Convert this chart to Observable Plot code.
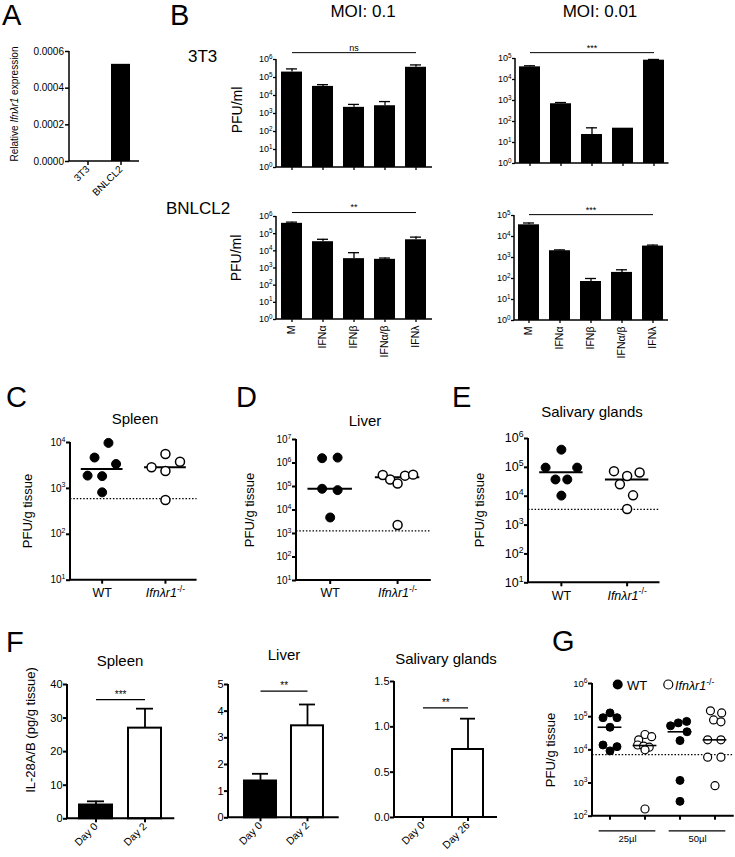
<!DOCTYPE html>
<html><head><meta charset="utf-8">
<script src="https://cdn.jsdelivr.net/npm/d3@7"></script>
<script src="https://cdn.jsdelivr.net/npm/@observablehq/plot@0.6"></script>
<style>
html,body{margin:0;padding:0;background:#fff;}
#root{position:relative;width:735px;height:857px;overflow:hidden;background:#fff;}
#root > div{position:absolute;}
</style></head><body><div id="root"></div>
<script>
const FONT = '"Liberation Sans", Arial, Helvetica, sans-serif';
const NS = "http://www.w3.org/2000/svg";

// ---------------- data ----------------
// A
const aCells = ["3T3", "BNLCL2"];
const aExpr = [0, 0.00053];
const aTicks = [0, 0.0002, 0.0004, 0.0006];

// B
const bTreat = ["M", "IFNα", "IFNβ", "IFNα/β", "IFNλ"];
const b3T3Moi01 = [2.0e5, 3.2e4, 2.2e3, 2.7e3, 3.7e5];
const b3T3Moi01Err = [3.0e5, 4.0e4, 3.2e3, 4.6e3, 5.0e5];
const b3T3Moi001 = [4.0e4, 700, 24, 48, 8.3e4];
const b3T3Moi001Err = [4.5e4, 800, 50, null, 9.0e4];
const bBnlMoi01 = [4.0e5, 3.4e4, 3.5e3, 3.2e3, 4.4e4];
const bBnlMoi01Err = [4.7e5, 4.7e4, 7.8e3, 3.8e3, 6.3e4];
const bBnlMoi001 = [3.6e4, 2.1e3, 72, 195, 3.5e3];
const bBnlMoi001Err = [4.4e4, 2.3e3, 100, 260, 3.9e3];
const bSigLabel = ["ns", "***", "**", "***"];
const bSigLevel = [2.4e6, 1.9e5, 1.7e6, 1.1e5];

// C, D, E (WT = group 1, Ifnλr1-/- = group 2); jitter in group units
// markup: _italic_  ^superscript^
const groupLabels = ["WT", "_Ifnλr1_^-/-^"];
const cWT = [9.8e3, 4.7e3, 3.4e3, 1.9e3, 1.85e3, 820];
const cWTJit = [0.1, -0.12, 0.22, -0.23, 0, 0];
const cKO = [5.6e3, 3.8e3, 2.9e3, 2.4e3, 560];
const cKOJit = [0, 0.23, -0.22, 0, 0];
const cLimit = 600;

const dWT = [1.6e6, 1.7e6, 8.0e4, 7.0e4, 4.8e3];
const dWTJit = [-0.12, 0.11, -0.12, 0.11, 0];
const dKO = [3.1e5, 2.0e5, 1.35e5, 2.9e5, 3.2e5, 2.3e3];
const dKOJit = [-0.22, -0.11, 0, 0.11, 0.23, 0];
const dLimit = 1.3e3;

const eWT = [4.1e5, 9.8e4, 9.8e4, 3.8e4, 3.8e4, 1.05e4];
const eWTJit = [0, -0.24, 0.24, -0.09, 0.09, 0];
const eKO = [7.4e4, 6.6e4, 5.0e4, 2.6e4, 1.07e4, 3.6e3];
const eKOJit = [-0.2, 0.19, 0, -0.11, 0.09, 0];
const eLimit = 3.5e3;

// F
const fSpleenDays = ["Day 0", "Day 2"];
const fSpleen = [4.1, 27];
const fSpleenErr = [5.2, 32.8];
const fLiverDays = ["Day 0", "Day 2"];
const fLiver = [1.38, 3.45];
const fLiverErr = [1.65, 4.25];
const fSalDays = ["Day 0", "Day 26"];
const fSal = [0, 0.75];
const fSalErr = [null, 1.09];
const fSigLabel = ["***", "**", "**"];
const fSigLevel = [35.5, 4.75, 1.21];

// G (positions 1..4: WT 25µl, KO 25µl, WT 50µl, KO 50µl)
const gWT25 = [1.3e5, 9.3e4, 9.3e4, 4.8e4, 1.4e4, 1.25e4, 9.3e3];
const gWT25Jit = [0, -0.2, 0.2, 0, -0.2, 0.2, 0];
const gKO25 = [2.9e4, 2.5e4, 2.0e4, 1.4e4, 1.3e4, 1.2e4, 1.0e4, 165];
const gKO25Jit = [0, 0.19, -0.18, -0.21, -0.04, 0.12, 0, 0];
const gWT50 = [5.3e4, 6.5e4, 7.2e4, 3.5e4, 1.9e4, 1.2e3, 280];
const gWT50Jit = [-0.27, -0.05, 0.19, 0.2, 0, 0, 0];
const gKO50 = [1.5e5, 1.3e5, 8.0e4, 7.0e4, 2.0e4, 2.0e4, 6.0e3, 6.0e3, 830];
const gKO50Jit = [-0.13, 0.19, -0.04, 0.17, -0.21, 0.17, -0.21, 0.17, 0];
const gLimit = 7.2e3;
const gVolumes = ["25µl", "50µl"];
const gVolumeCenters = [1.5, 3.5];

// ---------------- helpers ----------------
const root = document.getElementById("root");

function richText(node, s) {
  node.textContent = "";
  let italic = false, sup = false, buf = "", down = false;
  const flush = () => {
    if (!buf) return;
    const ts = document.createElementNS(NS, "tspan");
    ts.textContent = buf;
    if (italic) ts.setAttribute("font-style", "italic");
    if (sup) { ts.setAttribute("font-size", "70%"); ts.setAttribute("dy", "-0.6em"); }
    else if (down) { ts.setAttribute("dy", "0.42em"); down = false; }
    node.appendChild(ts); buf = "";
  };
  for (const ch of s) {
    if (ch === "_") { flush(); italic = !italic; }
    else if (ch === "^") { flush(); if (sup) down = true; sup = !sup; }
    else buf += ch;
  }
  flush();
}
function rich(svg) {
  svg.querySelectorAll("text").forEach(t => {
    if (t.querySelector("tspan")) return;
    const s = t.textContent;
    if (s.includes("^") || s.includes("_")) richText(t, s);
  });
}
const sup10 = d => "10^" + Math.round(Math.log10(d)) + "^";

// axis lines (left + bottom) drawn from the plot's frame
const axisLines = (sw) => (index, scales, values, dims) => {
  const {width, height, marginLeft: l, marginTop: t, marginRight: r, marginBottom: b} = dims;
  const p = document.createElementNS(NS, "path");
  p.setAttribute("d", `M${l},${t}V${height - b}H${width - r}`);
  p.setAttribute("fill", "none");
  p.setAttribute("stroke", "black");
  p.setAttribute("stroke-width", sw);
  return p;
};

function mkPlot(frame, m, spec) {
  const [x0, x1, y0, y1] = frame;
  const [mt, mr, mb, ml] = m;
  const svg = Plot.plot({
    ...spec,
    width: x1 - x0 + ml + mr,
    height: y1 - y0 + mt + mb,
    marginTop: mt, marginRight: mr, marginBottom: mb, marginLeft: ml,
    style: {fontFamily: FONT, fontSize: "10px", color: "black", background: "transparent", overflow: "visible"}
  });
  rich(svg);
  const div = document.createElement("div");
  div.style.left = (x0 - ml) + "px";
  div.style.top = (y0 - mt) + "px";
  div.style.width = (x1 - x0 + ml + mr) + "px";
  div.appendChild(svg);
  root.appendChild(div);
}

// ---------------- Panel A ----------------
mkPlot([69, 139, 51, 161], [8, 4, 45, 55], {
  x: {type: "band", domain: aCells, paddingInner: 0.41, paddingOuter: 0.235, label: null},
  y: {domain: [0, 0.0006], label: null},
  marks: [
    Plot.barY(aCells.map((c, i) => ({c, v: aExpr[i]})), {x: "c", y: "v", fill: "black"}),
    Plot.axisY({ticks: aTicks, tickFormat: d => d.toFixed(4), tickSize: 4, tickPadding: 1.5, strokeWidth: 1.5, fontSize: 10, label: null}),
    Plot.axisX({tickSize: 4, tickRotate: -45, tickPadding: 2, strokeWidth: 1.5, fontSize: 10, label: null}),
    axisLines(1.5)
  ]
});

// ---------------- Panel B ----------------
function bPanel(frame, m, vals, errs, yMax, sigLabel, sigY, showLabels) {
  const data = bTreat.map((t, i) => ({t, v: vals[i], e: errs[i]}));
  const withErr = data.filter(d => d.e != null);
  const decades = d3.range(0, Math.round(Math.log10(yMax)) + 1).map(k => 10 ** k);
  mkPlot(frame, m, {
    x: {type: "band", domain: bTreat, paddingInner: 0.3125, paddingOuter: 0.094, label: null},
    y: {type: "log", domain: [1, yMax], label: null},
    marks: [
      Plot.barY(data, {x: "t", y1: () => 1, y2: "v", fill: "black"}),
      Plot.ruleX(withErr, {x: "t", y1: "v", y2: "e", strokeWidth: 1.3}),
      Plot.tickY(withErr, {x: "t", y: "e", strokeWidth: 1.3, insetLeft: 5, insetRight: 5}),
      Plot.link([sigY], {x1: () => bTreat[0], x2: () => bTreat[4], y1: d => d, y2: d => d, strokeWidth: 1}),
      Plot.text([sigY], {x: () => bTreat[2], y: d => d, text: () => sigLabel, dy: -5, fontSize: 9}),
      Plot.axisY({ticks: decades, tickFormat: sup10, tickSize: 3, tickPadding: 1, strokeWidth: 1.3, fontSize: 9, label: null}),
      Plot.axisX({tickSize: 3, tickRotate: -90, tickPadding: 3, strokeWidth: 1.3, fontSize: 10.5, label: null,
        tickFormat: showLabels ? (d => d) : (() => "")}),
      axisLines(1.5)
    ]
  });
}
bPanel([276, 432, 59, 167], [14, 6, 8, 30], b3T3Moi01, b3T3Moi01Err, 1e6, bSigLabel[0], bSigLevel[0], false);
bPanel([514.5, 668, 58.3, 163.3], [14, 6, 8, 30], b3T3Moi001, b3T3Moi001Err, 1e5, bSigLabel[1], bSigLevel[1], false);
bPanel([276, 432, 215.7, 318.7], [10, 6, 50, 30], bBnlMoi01, bBnlMoi01Err, 1e6, bSigLabel[2], bSigLevel[2], true);
bPanel([514, 668, 215, 320], [10, 6, 50, 30], bBnlMoi001, bBnlMoi001Err, 1e5, bSigLabel[3], bSigLevel[3], true);

// ---------------- Panels C, D, E ----------------
function scatter(frame, m, yMax, wt, wtJ, ko, koJ, limit, tickFont) {
  const filled = wt.map((v, i) => ({g: 1, v, j: wtJ[i]}));
  const open = ko.map((v, i) => ({g: 2, v, j: koJ[i]}));
  const med = [{g: 1, m: d3.median(wt)}, {g: 2, m: d3.median(ko)}];
  const decades = d3.range(1, Math.round(Math.log10(yMax)) + 1).map(k => 10 ** k);
  mkPlot(frame, m, {
    x: {domain: [0.5, 2.5], label: null},
    y: {type: "log", domain: [10, yMax], label: null},
    marks: [
      Plot.ruleY([limit], {strokeDasharray: "1.5,1.8", strokeWidth: 1.3}),
      Plot.ruleY(med, {y: "m", x1: d => d.g - 0.33, x2: d => d.g + 0.33, strokeWidth: 2}),
      Plot.dot(filled, {x: d => d.g + d.j, y: "v", r: 4.5, fill: "black", stroke: "black", strokeWidth: 1}),
      Plot.dot(open, {x: d => d.g + d.j, y: "v", r: 4.5, fill: "white", stroke: "black", strokeWidth: 1.5}),
      Plot.axisY({ticks: decades, tickFormat: sup10, tickSize: 4, tickPadding: 1, strokeWidth: 2, fontSize: tickFont, label: null}),
      Plot.axisX({ticks: [1, 2], tickFormat: d => groupLabels[d - 1], tickSize: 4, tickPadding: 4, strokeWidth: 2, fontSize: 12.5, label: null}),
      axisLines(2)
    ]
  });
}
scatter([69.7, 196.3, 442.3, 580], [10, 6, 28, 30], 1e4, cWT, cWTJit, cKO, cKOJit, cLimit, 10);
scatter([295.6, 430.4, 439, 580], [10, 6, 28, 30], 1e7, dWT, dWTJit, dKO, dKOJit, dLimit, 10);
scatter([527.5, 659, 437.7, 582], [10, 6, 28, 36], 1e6, eWT, eWTJit, eKO, eKOJit, eLimit, 12.5);

// ---------------- Panel F ----------------
function fPanel(frame, m, days, vals, errs, yMax, ticks, fmt, sigLabel, sigY, pIn, pOut) {
  const data = days.map((d, i) => ({d, v: vals[i], e: errs[i], i}));
  const withErr = data.filter(d => d.e != null);
  const step = (frame[1] - frame[0]) / (2 - pIn + 2 * pOut);
  mkPlot(frame, m, {
    x: {type: "band", domain: days, paddingInner: pIn, paddingOuter: pOut, label: null},
    y: {domain: [0, yMax], label: null},
    marks: [
      Plot.ruleX(withErr, {x: "d", y1: "v", y2: "e", strokeWidth: 1.8}),
      Plot.tickY(withErr, {x: "d", y: "e", strokeWidth: 1.8, insetLeft: 8, insetRight: 8}),
      Plot.barY(data.filter(d => d.i === 0), {x: "d", y: "v", fill: "black", stroke: "black", strokeWidth: 2}),
      Plot.barY(data.filter(d => d.i === 1), {x: "d", y: "v", fill: "white", stroke: "black", strokeWidth: 2}),
      Plot.link([sigY], {x1: () => days[0], x2: () => days[1], y1: d => d, y2: d => d, strokeWidth: 1.3}),
      Plot.text([sigY], {x: () => days[0], y: d => d, dx: step / 2, dy: -5, text: () => sigLabel, fontSize: 10}),
      Plot.axisY({ticks, tickFormat: fmt, tickSize: 4, tickPadding: 1, strokeWidth: 2, fontSize: 11, label: null}),
      Plot.axisX({tickSize: 4, tickRotate: -45, tickPadding: 2, strokeWidth: 2, fontSize: 10.5, label: null}),
      axisLines(2)
    ]
  });
}
fPanel([66.7, 174, 684, 818.3], [20, 8, 45, 25], fSpleenDays, fSpleen, fSpleenErr, 40, [0, 10, 20, 30, 40], d => String(d), fSigLabel[0], fSigLevel[0], 0.32, 0.25);
fPanel([228.3, 339, 684, 817.3], [20, 8, 45, 25], fLiverDays, fLiver, fLiverErr, 5, [0, 1, 2, 3, 4, 5], d => String(d), fSigLabel[1], fSigLevel[1], 0.32, 0.33);
fPanel([394, 497, 680.7, 816.7], [20, 8, 45, 25], fSalDays, fSal, fSalErr, 1.5, [0, 0.5, 1, 1.5], d => d.toFixed(1), fSigLabel[2], fSigLevel[2], 0.3, 0.28);

// ---------------- Panel G ----------------
(function () {
  const mk = (vals, jit, p) => vals.map((v, i) => ({p, v, j: jit[i]}));
  const filled = [...mk(gWT25, gWT25Jit, 1), ...mk(gWT50, gWT50Jit, 3)];
  const open = [...mk(gKO25, gKO25Jit, 2), ...mk(gKO50, gKO50Jit, 4)];
  const med = [[gWT25, 1], [gKO25, 2], [gWT50, 3], [gKO50, 4]].map(([a, p]) => ({p, m: d3.median(a)}));
  const vols = gVolumes.map((label, i) => ({label, c: gVolumeCenters[i]}));
  mkPlot([591.5, 733.25, 683.3, 816], [10, 1, 36, 30], {
    x: {domain: [0.5, 4.55], label: null},
    y: {type: "log", domain: [100, 1e6], label: null},
    marks: [
      Plot.ruleY([gLimit], {strokeDasharray: "1.5,1.8", strokeWidth: 1.3}),
      Plot.dot(filled, {x: d => d.p + d.j, y: "v", r: 4, fill: "black", stroke: "black", strokeWidth: 1}),
      Plot.dot(open, {x: d => d.p + d.j, y: "v", r: 4, fill: "white", stroke: "black", strokeWidth: 1.2}),
      Plot.ruleY(med, {y: "m", x1: d => d.p - 0.34, x2: d => d.p + 0.34, strokeWidth: 1.6}),
      Plot.ruleY(vols, {y: () => 100, x1: d => d.c - 0.81, x2: d => d.c + 0.81, dy: 14.7, strokeWidth: 1.2}),
      Plot.text(vols, {x: "c", text: "label", frameAnchor: "bottom", dy: 26, fontSize: 9.5}),
      Plot.axisY({ticks: [1e2, 1e3, 1e4, 1e5, 1e6], tickFormat: sup10, tickSize: 4, tickPadding: 1, strokeWidth: 2, fontSize: 9.5, label: null}),
      Plot.axisX({ticks: [1, 2, 3, 4], tickFormat: () => "", tickSize: 4, strokeWidth: 2, label: null}),
      axisLines(2)
    ]
  });
})();

// ---------------- overlay text ----------------
const ov = d3.select(root).append("svg")
  .attr("width", 735).attr("height", 857)
  .style("position", "absolute").style("left", "0px").style("top", "0px")
  .style("overflow", "visible")
  .attr("font-family", FONT);
function label(x, y, s, size, anchor = "start", rot = 0) {
  const t = ov.append("text").attr("font-size", size).attr("text-anchor", anchor).attr("fill", "black");
  if (rot) t.attr("transform", `translate(${x},${y}) rotate(${rot})`).attr("dy", "0.35em");
  else t.attr("x", x).attr("y", y);
  richText(t.node(), s);
}
// panel letters
label(2, 25, "A", 29); label(170, 25, "B", 29);
label(6, 407, "C", 29); label(236, 407, "D", 29); label(452, 407, "E", 29);
label(6, 652, "F", 29); label(552, 651, "G", 29);
// B headers
label(363, 17, "MOI: 0.1", 17, "middle"); label(600, 17, "MOI: 0.01", 17, "middle");
label(188, 62, "3T3", 17); label(166, 214, "BNLCL2", 17);
// axis titles
label(14, 104, "Relative _Ifnλr1_ expression", 10, "middle", -90);
label(237, 110, "PFU/ml", 14, "middle", -90);
label(236, 258, "PFU/ml", 14, "middle", -90);
label(27, 511, "PFU/g tissue", 13, "middle", -90);
label(249, 510, "PFU/g tissue", 13, "middle", -90);
label(479, 510, "PFU/g tissue", 13, "middle", -90);
label(30, 730, "IL-28A/B (pg/g tissue)", 13, "middle", -90);
label(550, 750, "PFU/g tissue", 13, "middle", -90);
// titles
label(135, 424, "Spleen", 15, "middle");
label(365, 426, "Liver", 15, "middle");
label(592, 417, "Salivary glands", 15, "middle");
label(120, 666, "Spleen", 15, "middle");
label(284, 660, "Liver", 15, "middle");
label(446, 664, "Salivary glands", 15, "middle");
// G legend
ov.append("circle").attr("cx", 617.7).attr("cy", 684.5).attr("r", 5).attr("fill", "black");
label(627, 690, "WT", 13);
ov.append("circle").attr("cx", 668.3).attr("cy", 684.5).attr("r", 4.5).attr("fill", "white").attr("stroke", "black").attr("stroke-width", 1.2);
label(675, 690, "_Ifnλr1_^-/-^", 12.5);
</script></body></html>
